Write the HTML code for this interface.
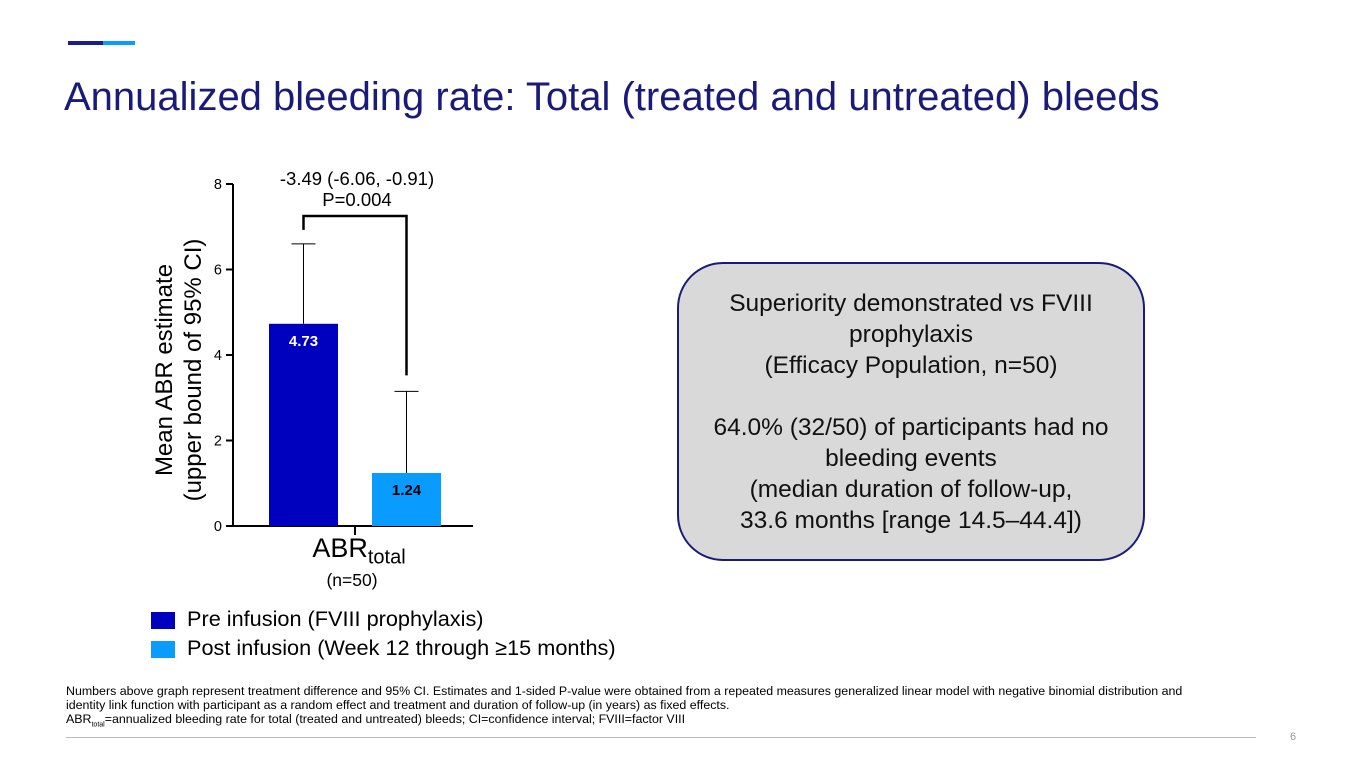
<!DOCTYPE html>
<html><head><meta charset="utf-8"><style>
body{margin:0;width:1365px;height:768px;background:#fff;font-family:"Liberation Sans",sans-serif;position:relative;overflow:hidden}
.abs{position:absolute}
</style></head><body>
<div class="abs" style="left:68px;top:41px;width:35px;height:4px;background:#1c1c8c"></div>
<div class="abs" style="left:103px;top:41px;width:32px;height:4px;background:#0a9bff"></div>
<div class="abs" style="left:64px;top:75px;font-size:40px;color:#1a1a7a;white-space:nowrap">Annualized bleeding rate: Total (treated and untreated) bleeds</div>

<svg class="abs" style="left:0;top:0" width="1365" height="768">
<g id="chart"></g>
</svg>

<div class="abs" style="left:179px;top:370px;width:0;height:0">
<div style="position:absolute;transform:translate(-50%,-50%) rotate(-90deg);font-size:24px;line-height:29px;text-align:center;white-space:nowrap;color:#000">Mean ABR estimate<br>(upper bound of 95% CI)</div></div>

<div class="abs" style="left:279px;top:533px;width:160px;text-align:center;font-size:27px">ABR<sub style="font-size:20px">total</sub></div>
<div class="abs" style="left:277px;top:570px;width:150px;text-align:center;font-size:17.5px">(n=50)</div>
<div class="abs" style="left:247px;top:168px;width:220px;text-align:center;font-size:18.5px;line-height:21px">-3.49 (-6.06, -0.91)<br>P=0.004</div>

<div class="abs" style="left:151px;top:612px;width:24px;height:17px;background:#0000bf"></div>
<div class="abs" style="left:187px;top:606px;font-size:21.7px">Pre infusion (FVIII prophylaxis)</div>
<div class="abs" style="left:151px;top:641px;width:24px;height:17px;background:#0a9bff"></div>
<div class="abs" style="left:187px;top:635px;font-size:21.7px">Post infusion (Week 12 through ≥15 months)</div>

<div class="abs" style="left:677px;top:262px;width:468px;height:299px;background:#d9d9d9;border:2px solid #1a1a7a;border-radius:46px;box-sizing:border-box;text-align:center;font-size:24.5px;line-height:31px;padding-top:24px;color:#111">
Superiority demonstrated vs FVIII<br>prophylaxis<br>(Efficacy Population, n=50)<br><br>64.0% (32/50) of participants had no<br>bleeding events<br>(median duration of follow-up,<br>33.6 months [range 14.5–44.4])</div>

<div class="abs" style="left:66px;top:684px;font-size:12.4px;line-height:14px;color:#000;width:1155px">Numbers above graph represent treatment difference and 95% CI. Estimates and 1-sided P-value were obtained from a repeated measures generalized linear model with negative binomial distribution and identity link function with participant as a random effect and treatment and duration of follow-up (in years) as fixed effects.<br>ABR<sub style="font-size:7px">total</sub>=annualized bleeding rate for total (treated and untreated) bleeds; CI=confidence interval; FVIII=factor VIII</div>
<div class="abs" style="left:66px;top:737px;width:1190px;height:1px;background:#bbb"></div>
<div class="abs" style="left:1290px;top:731px;font-size:11px;color:#999">6</div>

<script>
const categories=["Pre infusion","Post infusion"];
const values=[4.73,1.24];
const upperCI=[6.6,3.15];
const yTicks=[0,2,4,6,8];
const colors=["#0000bf","#0a9bff"];
const labelColors=["#fff","#000"];
const NS="http://www.w3.org/2000/svg";
const g=document.getElementById("chart");
const y=v=>526-v*42.75;
const barX=[269,372], bw=69;
function mk(t,a){const e=document.createElementNS(NS,t);for(const k in a)e.setAttribute(k,a[k]);g.appendChild(e);return e;}
let ax=mk("line",{x1:233,y1:184,x2:233,y2:527,stroke:"#000","stroke-width":2});


let xa=mk("line",{x1:232,y1:526,x2:473,y2:526,stroke:"#000","stroke-width":2});


mk("line",{x1:355,y1:526,x2:355,y2:535,stroke:"#000","stroke-width":2});
yTicks.forEach(t=>{
 mk("line",{x1:226,y1:y(t),x2:233,y2:y(t),stroke:"#000","stroke-width":2});
 const tx=mk("text",{x:222,y:y(t)+5,"text-anchor":"end","font-size":14.5,"font-family":"Liberation Sans"});
 tx.textContent=t;
 
 
});
values.forEach((v,i)=>{
 const cx=barX[i]+bw/2;
 mk("line",{x1:cx,y1:y(upperCI[i]),x2:cx,y2:y(v),stroke:"#000","stroke-width":1});
 mk("line",{x1:cx-12,y1:y(upperCI[i]),x2:cx+12,y2:y(upperCI[i]),stroke:"#000","stroke-width":1});
 const r=mk("rect",{x:barX[i],y:y(v),width:bw,height:y(0)-y(v),fill:colors[i]});
 
 
 const tx=mk("text",{x:cx,y:y(v)+22,"text-anchor":"middle","font-size":15,"font-weight":"bold",fill:labelColors[i],"font-family":"Liberation Sans"});
 tx.textContent=v.toFixed(2);
 
 
});
const bx1=barX[0]+bw/2,bx2=barX[1]+bw/2;
const br=mk("polyline",{points:`${bx1},${y(upperCI[0])-14} ${bx1},216 ${bx2},216 ${bx2},${y(upperCI[1])-16}`,fill:"none",stroke:"#000","stroke-width":2.5});


</script>
</body></html>
